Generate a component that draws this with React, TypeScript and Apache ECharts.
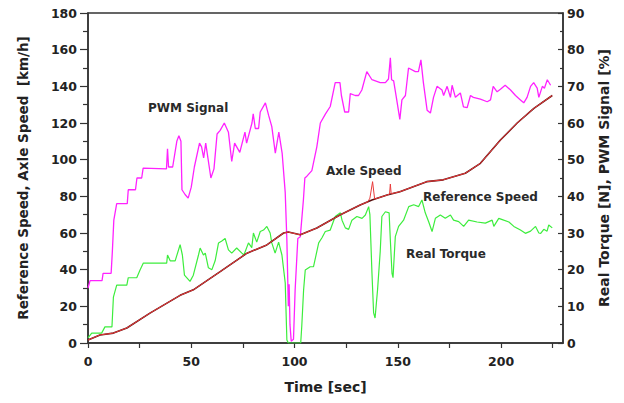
import React, { useEffect, useRef } from 'react';
import * as echarts from 'echarts';

// [time (s), PWM signal (%)] – right axis
const pwmSignal: [number, number][] = [
  [0, 15], [1, 17], [6.8, 17], [7.3, 19], [11.2, 19], [11.8, 25], [12.5, 33.5], [13.9, 38], [19, 38],
  [19.5, 41.8], [23, 41.8], [23.7, 45], [26, 45], [26.7, 47.7], [38, 47.5], [38.5, 53], [39, 48], [41, 48],
  [43, 55], [44, 56.5], [45, 55], [45.5, 41.8], [47, 40.5], [48.5, 39.5], [50, 42.5], [51.5, 48], [54, 54.5],
  [55, 53.5], [56, 50.5], [57, 54.5], [59.5, 45], [61, 47.5], [62.5, 57], [64, 58], [66, 60], [68, 57.5],
  [69.6, 49.5], [71, 54.5], [72, 53.5], [73.5, 52], [76, 57.5], [76.8, 54.5], [79.4, 60], [80, 62.5],
  [81, 58.5], [82.6, 58.5], [83.4, 63], [85.9, 65.5], [87.5, 62], [89, 59], [90.7, 51.8], [92.4, 57.5],
  [94, 51.8], [95.5, 41], [96.3, 28], [97, 10], [97.4, 16], [97.8, 5], [98.4, 0.5], [99.5, 1], [100.3, 14.5],
  [101.6, 28.5], [102.8, 29], [104.3, 39], [105, 45], [106, 45.5], [108.4, 47], [110.8, 53.5], [112.5, 60],
  [115, 62.5], [117.3, 64.5], [119.7, 71], [122, 71], [122.7, 67.5], [124.3, 63], [126.2, 63], [127, 68],
  [129.4, 67.5], [131, 67.5], [132.6, 69], [135, 74], [137.5, 71.8], [141.5, 71], [144, 71], [145.5, 72],
  [146.4, 77.8], [147, 71.8], [148, 71.5], [149.3, 67], [151, 61], [152, 66.3], [153.7, 67.5], [155.2, 75],
  [158.5, 74], [160, 74], [161.2, 77.2], [162.4, 71], [164.2, 63.5], [165.8, 62.7], [167.3, 67], [169, 70],
  [171.4, 69], [172.2, 67.5], [173.9, 70], [175.5, 67], [176.3, 70.3], [177.9, 67], [180.3, 68.2],
  [181.8, 64.4], [183.6, 64.2], [185.2, 67.5], [186.6, 67], [190, 66.5], [193.3, 65.8], [194.9, 66.3],
  [196.2, 70], [198.1, 68.5], [199.7, 69.2], [202, 70.3], [204.6, 69], [207, 67.5], [209.4, 66.3],
  [211, 65.5], [212.6, 67], [214.3, 70], [215.8, 71], [217.5, 69.5], [218.3, 67], [220, 70], [221, 69.5],
  [222.4, 71.8], [224, 70.3],
];

// [time (s), real torque (N)] – right axis
const realTorque: [number, number][] = [
  [0, 1.4], [1.8, 2.7], [6.6, 2.7], [8.2, 4.4], [11.6, 4.4], [12.3, 12.5], [13.9, 15.8], [18.8, 15.8],
  [19.5, 17.8], [23.6, 17.8], [25.2, 19.9], [26.8, 21.8], [38.1, 21.8], [38.5, 24], [39.8, 22.4], [42.2, 22.4],
  [44.6, 26.8], [45.7, 24], [46.7, 18.5], [49.4, 16.8], [51, 18.5], [53.5, 24], [54.3, 25.9], [55.9, 24],
  [56.8, 24.5], [58.3, 20.5], [60, 20], [61.6, 22.5], [63.2, 27.3], [64.8, 27.8], [66.4, 28.5], [68, 25.4],
  [69.6, 24.5], [72, 25.9], [74.5, 24.5], [75.5, 24], [77.7, 27.3], [79.3, 26], [80.1, 30], [81.7, 27.5],
  [83.4, 30.4], [85, 30.8], [86.6, 31.8], [88.2, 30], [89, 27.3], [90.6, 24.5], [92.3, 27.5], [93.9, 24],
  [95.5, 16.4], [96.3, 0.8], [97, 0], [103, 0], [103.5, 4.5], [104.4, 14.5], [105.2, 19.9], [107.6, 20.8],
  [109.2, 20.8], [111.7, 27.3], [113.3, 28.7], [114.9, 30.4], [117.3, 30.8], [119.7, 34.5], [122.2, 35.5],
  [123, 33.5], [124.6, 31.4], [126.2, 31], [127.8, 33.5], [130.2, 34.5], [132.7, 34], [134.3, 34.9],
  [135.9, 37.2], [136.5, 35], [137.5, 19], [138.3, 8.2], [139, 6.8], [140.2, 14.5], [141.5, 25], [142.3, 34.5],
  [144, 35.8], [145.8, 35.5], [146.4, 28], [147.2, 19], [147.7, 17.8], [148.8, 29], [150.4, 31.8],
  [152.8, 33.5], [155.3, 37.2], [157.7, 37.7], [160.1, 37.2], [161.7, 39], [163.3, 35.5], [165, 33],
  [166.6, 30.4], [168.2, 34], [170.6, 34.9], [173, 34], [175.5, 34.9], [177, 33.5], [179.5, 33.1],
  [181.9, 31.8], [184.3, 33.5], [188.4, 33], [192.4, 32.7], [195.7, 33.5], [196.5, 31.8], [198.9, 34],
  [201.3, 33.5], [203.8, 33], [206.2, 31.8], [209.4, 30.8], [211.8, 29.9], [214.3, 30.5], [216.7, 31.8],
  [218.3, 30], [219.2, 29.9], [220.7, 31], [222.3, 30.5], [223.1, 32.2], [224.8, 31.4],
];

// [time (s), speed (km/h)] – left axis
const referenceSpeed: [number, number][] = [
  [0, 1.6], [5.8, 4.4], [12.3, 5.4], [18.8, 8.2], [30, 16.3], [44.6, 26], [51, 29], [64, 38.9], [77, 49],
  [86.6, 53.5], [94.7, 60], [97, 60.5], [102.8, 59], [110.8, 62.7], [122, 69.8], [131.8, 75.3], [137.5, 78],
  [144.8, 80.7], [151, 82.5], [164, 88], [172, 89], [182.7, 92.6], [190, 98], [199.7, 110.7], [207.8, 120],
  [215.9, 128], [224.8, 135],
];

const axleSpeed: [number, number][] = [
  [0, 1.6], [5.8, 4.4], [12.3, 5.4], [18.8, 8.2], [30, 16.3], [44.6, 26], [51, 29], [64, 38.9], [77, 49],
  [86.6, 53.5], [94.7, 60], [97, 60.5], [102.8, 59], [110.8, 62.7], [122, 69.8], [131.8, 75.3], [135.5, 77],
  [136.5, 79], [137.8, 88], [138.8, 78.5], [144.8, 80.7], [146, 81.2], [146.4, 86.7], [146.8, 81.4],
  [151, 82.5], [164, 88], [172, 89], [182.7, 92.6], [190, 98], [199.7, 110.7], [207.8, 120], [215.9, 128],
  [224.8, 135],
];

const annotations = [
  { text: 'PWM Signal', x: 148, y: 108 },
  { text: 'Axle Speed', x: 326, y: 171 },
  { text: 'Reference Speed', x: 423, y: 197 },
  { text: 'Real Torque', x: 406, y: 254 },
];

const FONT = 'DejaVu Sans';
const AXIS = '#333';

export default function App() {
  const ref = useRef<HTMLDivElement>(null);
  useEffect(() => {
    if (!ref.current) return;
    const chart = echarts.init(ref.current, undefined, { renderer: 'svg' });
    const labelStyle = { fontFamily: FONT, fontWeight: 'bold' as const, fontSize: 12.5, color: '#222' };
    const nameStyle = { fontFamily: FONT, fontWeight: 'bold' as const, fontSize: 14, color: '#222' };
    chart.setOption({
      animation: false,
      backgroundColor: '#fff',
      grid: { left: 88, right: 61, top: 13, bottom: 60, show: true, borderColor: AXIS, borderWidth: 1.5, backgroundColor: 'transparent' },
      xAxis: {
        type: 'value', min: 0, max: 230, interval: 25,
        name: 'Time [sec]', nameLocation: 'middle', nameGap: 37, nameTextStyle: nameStyle,
        axisLine: { show: true, lineStyle: { color: AXIS, width: 1.5 } },
        axisTick: { show: true, length: 5, lineStyle: { color: AXIS, width: 1.2 } },
        axisLabel: { ...labelStyle, margin: 12, formatter: (v: number) => (v % 50 === 0 ? String(v) : ''), showMaxLabel: false },
        splitLine: { show: false },
      },
      yAxis: [
        {
          type: 'value', min: 0, max: 180, interval: 20, position: 'left',
          name: 'Reference Speed, Axle Speed  [km/h]', nameLocation: 'middle', nameGap: 58,
          nameTextStyle: { ...nameStyle, fontSize: 13.5 },
          axisLine: { show: true, lineStyle: { color: AXIS, width: 1.5 } },
          axisTick: { show: true, length: 8, lineStyle: { color: AXIS, width: 1.2 } },
          minorTick: { show: true, splitNumber: 2, length: 5, lineStyle: { color: AXIS, width: 1.2 } },
          axisLabel: { ...labelStyle, margin: 11 },
          splitLine: { show: false },
        },
        {
          type: 'value', min: 0, max: 90, interval: 10, position: 'right',
          name: 'Real Torque [N], PWM Signal [%]', nameLocation: 'middle', nameGap: 34,
          nameTextStyle: nameStyle,
          axisLine: { show: true, lineStyle: { color: AXIS, width: 1.5 } },
          axisTick: { show: true, inside: true, length: 5, lineStyle: { color: AXIS, width: 1.2 } },
          minorTick: { show: true, splitNumber: 2, length: 3, lineStyle: { color: AXIS, width: 1.2 } },
          axisLabel: { ...labelStyle, margin: 4 },
          splitLine: { show: false },
        },
      ],
      series: [
        { name: 'Real Torque', type: 'line', yAxisIndex: 1, data: realTorque, showSymbol: false, lineStyle: { color: '#3ded3d', width: 1.2 } },
        { name: 'PWM Signal', type: 'line', yAxisIndex: 1, data: pwmSignal, showSymbol: false, lineStyle: { color: '#ff22ff', width: 1.3 } },
        { name: 'Reference Speed', type: 'line', yAxisIndex: 0, data: referenceSpeed, showSymbol: false, lineStyle: { color: '#5a1212', width: 1.6 } },
        { name: 'Axle Speed', type: 'line', yAxisIndex: 0, data: axleSpeed, showSymbol: false, lineStyle: { color: '#e83a3a', width: 1 } },
      ],
      graphic: annotations.map((a) => ({
        type: 'text', x: a.x, y: a.y,
        style: { text: a.text, fontFamily: FONT, fontWeight: 'bold', fontSize: 12, fill: '#2a2a2a', verticalAlign: 'middle' },
      })),
    });
    return () => chart.dispose();
  }, []);
  return <div ref={ref} style={{ position: 'fixed', left: 0, top: 0, width: 624, height: 403 }} />;
}
